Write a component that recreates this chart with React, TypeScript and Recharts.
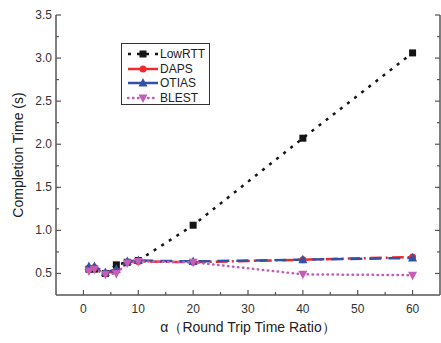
import React from 'react'
import { LineChart, Line, XAxis, YAxis, Legend } from 'recharts'

// alpha values (Round Trip Time Ratio) and completion times in seconds
const alpha = [1, 2, 4, 6, 8, 10, 20, 40, 60]
const lowRTT = [0.55, 0.55, 0.5, 0.6, 0.63, 0.65, 1.06, 2.07, 3.06]
const daps = [0.55, 0.57, 0.5, 0.53, 0.63, 0.64, 0.63, 0.66, 0.69]
const otias = [0.58, 0.58, 0.51, 0.55, 0.64, 0.65, 0.64, 0.66, 0.68]
const blest = [0.53, 0.55, 0.49, 0.5, 0.62, 0.64, 0.63, 0.49, 0.48]

const xTicks = [0, 5, 10, 15, 20, 25, 30, 35, 40, 45, 50, 55, 60]
const yTicks = [0.5, 0.75, 1, 1.25, 1.5, 1.75, 2, 2.25, 2.5, 2.75, 3, 3.25, 3.5]

const chartData = alpha.map((a, i) => ({
  alpha: a,
  LowRTT: lowRTT[i],
  DAPS: daps[i],
  OTIAS: otias[i],
  BLEST: blest[i],
}))

const FONT = '"Liberation Sans", Arial, sans-serif'
const AXIS = '#555'
const BLACK = '#151515'
const RED = '#ee2a2e'
const BLUE = '#3452a4'
const PINK = '#c35db5'

type Side = 'bottom' | 'top' | 'left' | 'right'

// inward ticks, major + minor, labels only on bottom / left majors
const makeTick = (side: Side, step: number, labels: boolean) => (props: any) => {
  const { x, y, payload } = props
  const v = payload.value
  const major = Math.abs(v / step - Math.round(v / step)) < 1e-6
  const len = major ? 5 : 3
  let x2 = x
  let y2 = y
  if (side === 'bottom') y2 = y - len
  if (side === 'top') y2 = y + len
  if (side === 'left') x2 = x + len
  if (side === 'right') x2 = x - len
  return (
    <g>
      <line x1={x} y1={y} x2={x2} y2={y2} stroke={AXIS} strokeWidth={1.2} />
      {labels && major && side === 'bottom' && (
        <text x={x} y={y + 18} textAnchor="middle" fontSize={12} fill="#333" fontFamily={FONT}>
          {v}
        </text>
      )}
      {labels && major && side === 'left' && (
        <text x={x - 4} y={y + 4} textAnchor="end" fontSize={12} fill="#333" fontFamily={FONT}>
          {v.toFixed(1)}
        </text>
      )}
    </g>
  )
}

const squareDot = (p: any) => (
  <rect key={`sq-${p.index}`} x={p.cx - 3.5} y={p.cy - 3.5} width={7} height={7} fill={BLACK} />
)
const circleDot = (p: any) => <circle key={`ci-${p.index}`} cx={p.cx} cy={p.cy} r={3.5} fill={RED} />
const triDot = (p: any) => (
  <polygon
    key={`tr-${p.index}`}
    points={`${p.cx},${p.cy - 5} ${p.cx - 4.5},${p.cy + 3.5} ${p.cx + 4.5},${p.cy + 3.5}`}
    fill={BLUE}
  />
)
const invTriDot = (p: any) => (
  <polygon
    key={`it-${p.index}`}
    points={`${p.cx},${p.cy + 5} ${p.cx - 4.5},${p.cy - 3.5} ${p.cx + 4.5},${p.cy - 3.5}`}
    fill={PINK}
  />
)

const legendItems = [
  { name: 'LowRTT', color: BLACK, dash: '3 6', cap: 'butt', marker: 'square' },
  { name: 'DAPS', color: RED, dash: '', cap: 'butt', marker: 'circle' },
  { name: 'OTIAS', color: BLUE, dash: '', cap: 'butt', marker: 'tri' },
  { name: 'BLEST', color: PINK, dash: '0.5 4.5', cap: 'round', marker: 'inv' },
]

const LegendBox = () => (
  <div
    style={{
      border: '1px solid #333',
      width: 89,
      height: 62,
      boxSizing: 'border-box',
      background: '#fff',
      fontFamily: FONT,
      fontSize: 12,
      color: '#222',
      paddingTop: 3,
    }}
  >
    {legendItems.map(it => (
      <div key={it.name} style={{ display: 'flex', alignItems: 'center', height: 14.5 }}>
        <svg width={35} height={12} style={{ marginLeft: 3 }}>
          <line
            x1={3}
            y1={6}
            x2={33}
            y2={6}
            stroke={it.color}
            strokeWidth={2.5}
            strokeDasharray={it.dash || undefined}
            strokeLinecap={it.cap as any}
          />
          {it.marker === 'square' && <rect x={14.5} y={2.5} width={7} height={7} fill={it.color} />}
          {it.marker === 'circle' && <circle cx={18} cy={6} r={3.5} fill={it.color} />}
          {it.marker === 'tri' && <polygon points="18,1 13.5,9.5 22.5,9.5" fill={it.color} />}
          {it.marker === 'inv' && <polygon points="18,11 13.5,2.5 22.5,2.5" fill={it.color} />}
        </svg>
        <span>{it.name}</span>
      </div>
    ))}
  </div>
)

const XTitle = (props: any) => {
  const { x, y, width } = props.viewBox
  return (
    <text x={x + width / 2} y={y + 37} textAnchor="middle" fontSize={14} fill="#222" fontFamily={FONT}>
      α（Round Trip Time Ratio）
    </text>
  )
}

const YTitle = (props: any) => {
  const { y, height } = props.viewBox
  const cx = 23
  const cy = y + height / 2
  return (
    <text
      x={cx}
      y={cy}
      transform={`rotate(-90 ${cx} ${cy})`}
      textAnchor="middle"
      fontSize={14}
      fill="#222"
      fontFamily={FONT}
    >
      Completion Time (s)
    </text>
  )
}

export default function App() {
  return (
    <div style={{ position: 'absolute', left: 0, top: 0, background: '#fff' }}>
      <LineChart width={441} height={343} data={chartData} margin={{ top: 15, right: 0, left: 0, bottom: 0 }}>
        <XAxis
          dataKey="alpha"
          type="number"
          domain={[-5, 65]}
          ticks={xTicks}
          interval={0}
          allowDataOverflow
          height={48}
          tickSize={0}
          tickMargin={0}
          tickLine={false}
          tick={makeTick('bottom', 10, true)}
          axisLine={{ stroke: AXIS, strokeWidth: 1.5 }}
          label={{ content: <XTitle /> }}
        />
        <XAxis
          xAxisId="top"
          orientation="top"
          type="number"
          domain={[-5, 65]}
          ticks={xTicks}
          interval={0}
          allowDataOverflow
          height={0}
          tickSize={0}
          tickMargin={0}
          tickLine={false}
          tick={makeTick('top', 10, false)}
          axisLine={{ stroke: AXIS, strokeWidth: 1.5 }}
        />
        <YAxis
          type="number"
          domain={[0.25, 3.5]}
          ticks={yTicks}
          interval={0}
          allowDataOverflow
          width={56}
          tickSize={0}
          tickMargin={0}
          tickLine={false}
          tick={makeTick('left', 0.5, true)}
          axisLine={{ stroke: AXIS, strokeWidth: 1.5 }}
          label={{ content: <YTitle /> }}
        />
        <YAxis
          yAxisId="right"
          orientation="right"
          type="number"
          domain={[0.25, 3.5]}
          ticks={yTicks}
          interval={0}
          allowDataOverflow
          width={1}
          tickSize={0}
          tickMargin={0}
          tickLine={false}
          tick={makeTick('right', 0.5, false)}
          axisLine={{ stroke: AXIS, strokeWidth: 1.5 }}
        />
        <Legend
          layout="vertical"
          align="center"
          verticalAlign="middle"
          content={<LegendBox />}
          wrapperStyle={{ left: 121, top: 43, width: 89, height: 62 }}
        />
        <Line
          dataKey="LowRTT"
          stroke={BLACK}
          strokeWidth={2.5}
          strokeDasharray="3 6"
          dot={squareDot}
          activeDot={false}
          isAnimationActive={false}
        />
        <Line
          dataKey="DAPS"
          stroke={RED}
          strokeWidth={2.5}
          strokeDasharray="12 4 2 4"
          dot={circleDot}
          activeDot={false}
          isAnimationActive={false}
        />
        <Line
          dataKey="OTIAS"
          stroke={BLUE}
          strokeWidth={2.5}
          strokeDasharray="12 7"
          dot={triDot}
          activeDot={false}
          isAnimationActive={false}
        />
        <Line
          dataKey="BLEST"
          stroke={PINK}
          strokeWidth={2.5}
          strokeDasharray="0.5 4.5"
          strokeLinecap="round"
          dot={invTriDot}
          activeDot={false}
          isAnimationActive={false}
        />
      </LineChart>
    </div>
  )
}
